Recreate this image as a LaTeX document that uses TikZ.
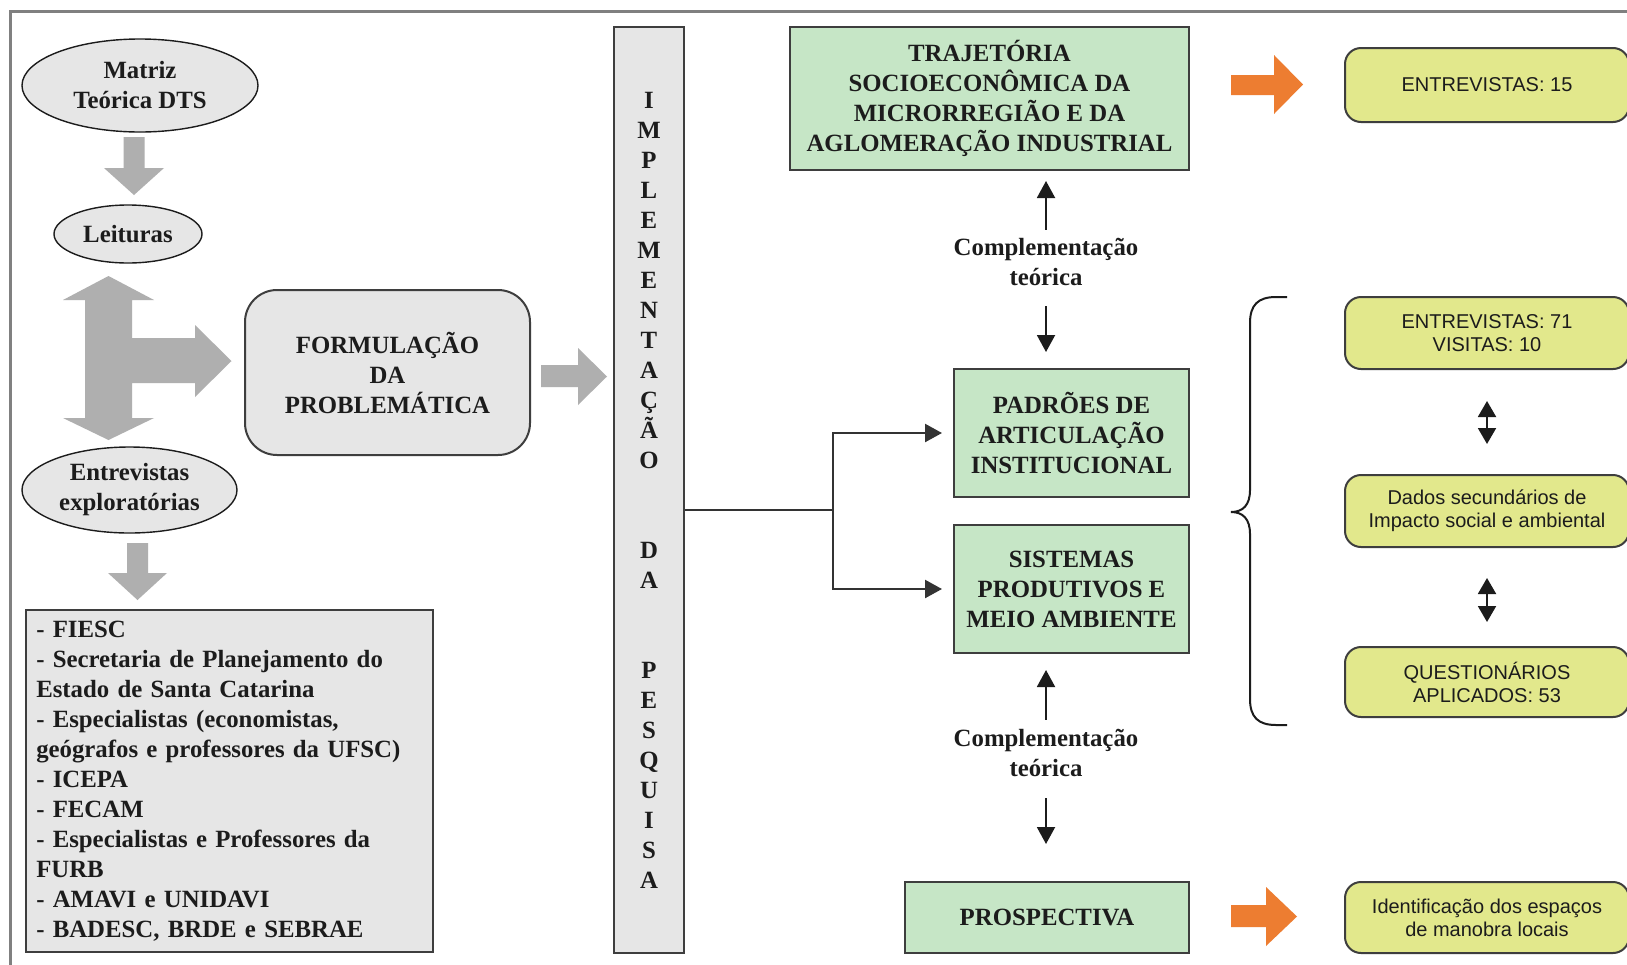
\documentclass[tikz,border=0pt]{standalone}
\usepackage{fontspec}
\setmainfont{Liberation Serif}
\newfontfamily\arialf{Liberation Sans}
\usetikzlibrary{shapes.geometric,arrows.meta,calc}
\definecolor{boxgray}{RGB}{230,230,230}
\definecolor{arrgray}{RGB}{175,175,175}
\definecolor{framegray}{RGB}{128,128,128}
\definecolor{boxgreen}{RGB}{198,230,198}
\definecolor{boxyellow}{RGB}{226,232,140}
\definecolor{orangearr}{RGB}{237,125,49}
\definecolor{ink}{RGB}{28,28,28}
\begin{document}
\begin{tikzpicture}[x=0.5pt,y=-0.5pt,
  serif/.style={font=\fontsize{12.4}{15}\selectfont\bfseries, text=ink},
  ell/.style={ellipse, draw=ink, line width=0.7pt, fill=boxgray, serif, align=center, inner sep=0pt},
  graybox/.style={draw=ink!85, line width=1pt, fill=boxgray, serif},
  greenbox/.style={draw=ink!85, line width=1pt, fill=boxgreen, serif, align=center, inner sep=0pt},
  yellowbox/.style={draw=ink!85, line width=1pt, fill=boxyellow, rounded corners=8pt, align=center, inner sep=0pt, minimum width=142pt, font=\arialf\fontsize{10}{11.5}\selectfont, text=ink},
  blockarrow/.style={fill=arrgray, draw=none},
  orangeblock/.style={fill=orangearr, draw=none},
  arr/.style={-{Triangle[length=8.5pt,width=9pt]}, line width=1pt, draw=ink},
  dblarr/.style={{Triangle[length=8pt,width=9pt]}-{Triangle[length=8pt,width=9pt]}, line width=1pt, draw=ink},
  conn/.style={line width=1.2pt, draw=ink!90},
  lbl/.style={serif, align=center, inner sep=0pt}
]
\useasboundingbox (0,0) rectangle (1627,964);
\fill[white] (0,0) rectangle (1627,964);
% outer frame
\draw[framegray, line width=1.5pt] (10,1000) -- (10,11) -- (1680,11);

% left column
\node[ell, minimum width=118pt, minimum height=46.5pt] (matriz) at (140,85.5) {Matriz\\Teórica DTS};
\node[ell, minimum width=74pt, minimum height=29pt] (leituras) at (128,234) {Leituras};
\node[ell, minimum width=107.5pt, minimum height=43pt] (entrev) at (129.5,490) {Entrevistas\\exploratórias};
\node[graybox, rounded corners=16pt, minimum width=142.5pt, minimum height=82.5pt, align=center, inner sep=0pt] (form) at (387.5,372.5) {FORMULAÇÃO\\DA\\PROBLEMÁTICA};
\node[graybox, minimum width=203.25pt, minimum height=171pt, text width=193pt, inner sep=5pt, align=left] (list) at (229.25,781) {- FIESC\\
- Secretaria de Planejamento do\\
Estado de Santa Catarina\\
- Especialistas (economistas,\\
geógrafos e professores da UFSC)\\
- ICEPA\\
- FECAM\\
- Especialistas e Professores da\\
FURB\\
- AMAVI e UNIDAVI\\
- BADESC, BRDE e SEBRAE};

% gray block arrows
\fill[blockarrow] (123.5,137) -- (144.5,137) -- (144.5,168) -- (164,168) -- (134,195) -- (104,168) -- (123.5,168) -- cycle;
\fill[blockarrow] (108.5,276) -- (154,300) -- (132,300) -- (132,338) -- (195,338) -- (195,325) -- (231.5,361) -- (195,397) -- (195,383) -- (132,383) -- (132,418) -- (154,418) -- (108.5,440) -- (63,418) -- (85,418) -- (85,300) -- (63,300) -- cycle;
\fill[blockarrow] (127,543) -- (148,543) -- (148,573) -- (167,573) -- (137.5,600) -- (108,573) -- (127,573) -- cycle;
\fill[blockarrow] (541,365) -- (578,365) -- (578,348) -- (607,376.5) -- (578,405) -- (578,387) -- (541,387) -- cycle;

% implementation bar
\node[graybox, minimum width=35pt, minimum height=463pt, inner sep=0pt, align=center] (bar) at (649,490) {I\\M\\P\\L\\E\\M\\E\\N\\T\\A\\Ç\\Ã\\O\\~\\~\\D\\A\\~\\~\\P\\E\\S\\Q\\U\\I\\S\\A};

% green boxes
\node[greenbox, minimum width=199.5pt, minimum height=71.5pt] (g1) at (989.5,98.5) {TRAJETÓRIA\\SOCIOECONÔMICA DA\\MICRORREGIÃO E DA\\AGLOMERAÇÃO INDUSTRIAL};
\node[greenbox, minimum width=117.5pt, minimum height=64pt] (g2) at (1071.5,433) {PADRÕES DE\\ARTICULAÇÃO\\INSTITUCIONAL};
\node[greenbox, minimum width=117.5pt, minimum height=64pt] (g3) at (1071.5,589) {SISTEMAS\\PRODUTIVOS E\\MEIO AMBIENTE};
\node[greenbox, minimum width=142pt, minimum height=35.5pt] (g4) at (1047,917.5) {PROSPECTIVA};

% labels
\node[lbl] (comp1) at (1046,262) {Complementação\\teórica};
\node[lbl] (comp2) at (1046,753) {Complementação\\teórica};

\draw[arr, shorten <=4pt, shorten >=5pt] (comp1.north) -- (comp1.north |- g1.south);
\draw[arr, shorten <=10pt, shorten >=8pt] (comp1.south) -- (comp1.south |- g2.north);
\draw[arr, shorten <=4.5pt, shorten >=8pt] (comp2.north) -- (comp2.north |- g3.south);
\draw[arr, shorten <=10.5pt, shorten >=18.5pt] (comp2.south) -- (comp2.south |- g4.north);

% connector from bar
\coordinate (split) at (833,510);
\draw[conn] (split -| bar.east) -- (split);
\draw[conn, -{Triangle[length=8.5pt,width=9pt]}, shorten >=5.5pt] (split) |- (g2.west);
\draw[conn, -{Triangle[length=8.5pt,width=9pt]}, shorten >=5.5pt] (split) |- (g3.west);

% orange arrows
\fill[orangeblock] (1231,75) -- (1274,75) -- (1274,55) -- (1303,84.5) -- (1274,114) -- (1274,95) -- (1231,95) -- cycle;
\fill[orangeblock] (1231,905) -- (1266,905) -- (1266,887) -- (1297,916.5) -- (1266,946) -- (1266,927) -- (1231,927) -- cycle;

% yellow boxes
\node[yellowbox, minimum height=37pt] (y1) at (1487,85) {ENTREVISTAS: 15};
\node[yellowbox, minimum height=36pt] (y2) at (1487,333) {ENTREVISTAS: 71\\VISITAS: 10};
\node[yellowbox, minimum height=36pt] (y3) at (1487,511) {Dados secundários de\\Impacto social e ambiental};
\node[yellowbox, minimum height=35pt] (y4) at (1487,682) {QUESTIONÁRIOS\\APLICADOS: 53};
\node[yellowbox, minimum height=35.5pt] (y5) at (1487,917.5) {Identificação dos espaços\\de manobra locais};

\draw[dblarr, shorten <=15.5pt, shorten >=15pt] (y2.south) -- (y3.north);
\draw[dblarr, shorten <=15pt, shorten >=12pt] (y3.south) -- (y4.north);

% brace
\draw[line width=1pt, ink] (1287,297) -- (1276,297) .. controls (1258,297) and (1250,305) .. (1250,323) -- (1250,490) .. controls (1250,505) and (1243,512) .. (1231,512) .. controls (1243,512) and (1250,519) .. (1250,534) -- (1250,699) .. controls (1250,717) and (1258,725) .. (1276,725) -- (1287,725);
\end{tikzpicture}
\end{document}
